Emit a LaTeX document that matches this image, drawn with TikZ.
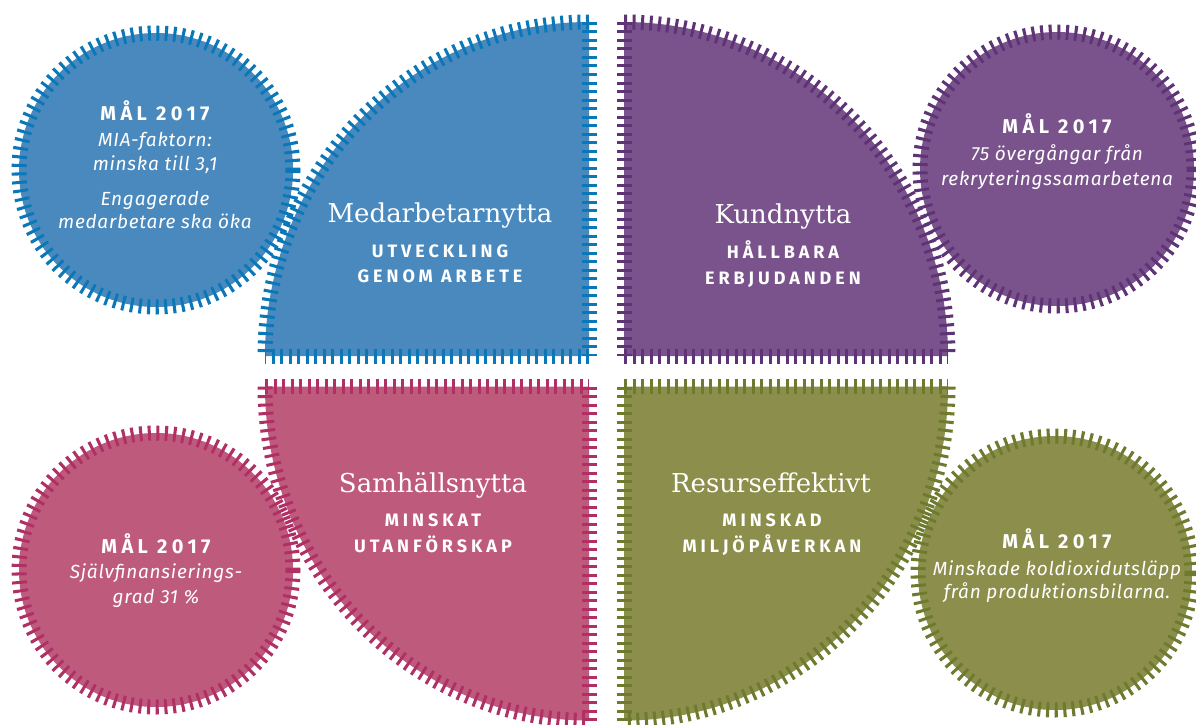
\documentclass[tikz,border=0pt]{standalone}
\usepackage{fontspec}
\newfontfamily\sansfont[LetterSpace=4]{Fira Sans}
\newfontfamily\capsfont[LetterSpace=22]{Fira Sans}
\newfontfamily\headfont{DejaVu Serif}
\definecolor{bluefill}{HTML}{4A89BE}
\definecolor{bluetick}{HTML}{0A78B8}
\definecolor{purplefill}{HTML}{7A538C}
\definecolor{purpletick}{HTML}{5E3476}
\definecolor{pinkfill}{HTML}{BE5A7C}
\definecolor{pinktick}{HTML}{B03066}
\definecolor{olivefill}{HTML}{8C8E4C}
\definecolor{olivetick}{HTML}{6E7A2E}
\tikzset{
  ticks/.style={line width=15pt, dash pattern=on 3pt off 5.5pt, line cap=butt},
  head/.style={text=white, inner sep=0pt, anchor=base, font=\headfont\fontsize{26}{30}\selectfont},
  sub/.style={text=white, inner sep=0pt, anchor=base, font=\capsfont\bfseries\fontsize{18}{20}\selectfont},
  goal/.style={text=white, inner sep=0pt, anchor=base, font=\capsfont\bfseries\fontsize{20}{22}\selectfont},
  note/.style={text=white, inner sep=0pt, anchor=base, font=\sansfont\itshape\fontsize{19}{20}\selectfont},
}
\begin{document}
\begin{tikzpicture}[x=1pt,y=-1pt]
\useasboundingbox (0,0) rectangle (1196,725);
% fills
\fill[bluefill] (589,356) -- (589,22) arc[start angle=270,end angle=180,x radius=324,y radius=334] -- cycle;
\fill[purplefill] (624,356) -- (624,22) arc[start angle=270,end angle=360,x radius=324,y radius=334] -- cycle;
\fill[pinkfill] (589,386.5) -- (265,386.5) arc[start angle=180,end angle=90,x radius=324,y radius=334] -- cycle;
\fill[olivefill] (624,386.5) -- (948,386.5) arc[start angle=0,end angle=90,x radius=324,y radius=334] -- cycle;
\fill[bluefill] (156,170) circle[radius=137];
\fill[purplefill] (1057,169) circle[radius=137];
\fill[pinkfill] (156,570) circle[radius=137];
\fill[olivefill] (1055,573) circle[radius=137];
% tick borders
\begin{scope}[ticks]
\draw[bluetick] (589,22) -- (589,356);
\draw[bluetick] (589,356) -- (265,356);
\draw[bluetick] (589,22) arc[start angle=270,end angle=180,x radius=324,y radius=334];
\draw[purpletick] (624,22) -- (624,356);
\draw[purpletick] (624,356) -- (948,356);
\draw[purpletick] (624,22) arc[start angle=270,end angle=360,x radius=324,y radius=334];
\draw[pinktick] (265,386.5) -- (589,386.5);
\draw[pinktick] (589,386.5) -- (589,720.5);
\draw[pinktick] (265,386.5) arc[start angle=180,end angle=90,x radius=324,y radius=334];
\draw[olivetick] (624,386.5) -- (948,386.5);
\draw[olivetick] (624,386.5) -- (624,720.5);
\draw[olivetick] (948,386.5) arc[start angle=0,end angle=90,x radius=324,y radius=334];
\draw[bluetick] (156,170) circle[radius=137];
\draw[purpletick] (1057,169) circle[radius=137];
\draw[pinktick] (156,570) circle[radius=137];
\draw[olivetick] (1055,573) circle[radius=137];
\end{scope}
% quadrant texts
\node[head] (medh) at (440,222) {Medarbetarnytta};
\node[sub] (meds1) at (440,257) {UTVECKLING};
\node[sub] (meds2) at (440,282) {GENOM ARBETE};
\node[head] (kunh) at (783,223) {Kundnytta};
\node[sub] (kuns1) at (783,258) {HÅLLBARA};
\node[sub] (kuns2) at (783,284) {ERBJUDANDEN};
\node[head] (samh) at (433,492) {Samhällsnytta};
\node[sub] (sams1) at (433,526) {MINSKAT};
\node[sub] (sams2) at (433,552) {UTANFÖRSKAP};
\node[head] (resh) at (771,492) {Resurseffektivt};
\node[sub] (ress1) at (772,526) {MINSKAD};
\node[sub] (ress2) at (772,552) {MILJÖPÅVERKAN};
% circle texts
\node[goal] (bg) at (155,120) {MÅL 2017};
\node[note] (bn1) at (155,146) {MIA-faktorn:};
\node[note] (bn2) at (155,170) {minska till 3,1};
\node[note] (bn3) at (155,205) {Engagerade};
\node[note] (bn4) at (155,228) {medarbetare ska öka};
\node[goal] (pg) at (1057,133) {MÅL 2017};
\node[note] (pn1) at (1057,160) {75 övergångar från};
\node[note] (pn2) at (1057,185) {rekryteringssamarbetena};
\node[goal] (rg) at (156,553) {MÅL 2017};
\node[note] (rn1) at (156,578) {Självfinansierings-};
\node[note] (rn2) at (156,603) {grad 31 \%};
\node[goal] (og) at (1057,548) {MÅL 2017};
\node[note] (on1) at (1057,575) {Minskade koldioxidutsläpp};
\node[note] (on2) at (1057,598) {från produktionsbilarna.};
\end{tikzpicture}
\end{document}
